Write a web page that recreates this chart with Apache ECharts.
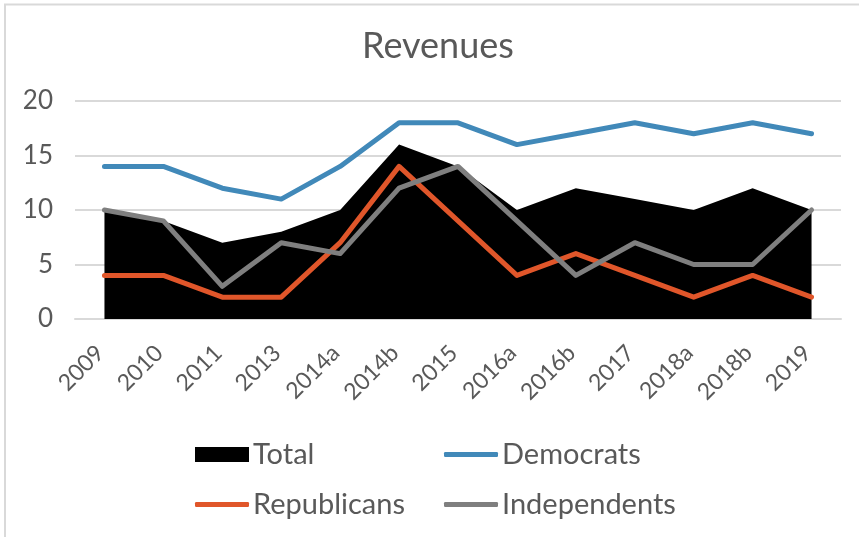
<!DOCTYPE html>
<html>
<head>
<meta charset="utf-8">
<script src="https://cdn.jsdelivr.net/npm/echarts@6/dist/echarts.min.js"></script>
<style>
  html, body { margin: 0; padding: 0; background: #fff; }
  #chart { width: 859px; height: 537px; }
</style>
</head>
<body>
<div id="chart"></div>
<script>
// Survey years (some years were polled twice)
const categories = ['2009', '2010', '2011', '2013', '2014a', '2014b', '2015', '2016a', '2016b', '2017', '2018a', '2018b', '2019'];
const total        = [10, 9, 7, 8, 10, 16, 14, 10, 12, 11, 10, 12, 10];
const democrats    = [14, 14, 12, 11, 14, 18, 18, 16, 17, 18, 17, 18, 17];
const republicans  = [4, 4, 2, 2, 7, 14, 9, 4, 6, 4, 2, 4, 2];
const independents = [10, 9, 3, 7, 6, 12, 14, 9, 4, 7, 5, 5, 10];
const yTicks = [0, 5, 10, 15, 20];

const FONT = 'Lato, "Noto Sans", sans-serif';
const TEXT = '#595959';
const colors = { total: '#000000', dem: '#4189b9', rep: '#e0562a', ind: '#7f7f7f' };

const chart = echarts.init(document.getElementById('chart'), null, { renderer: 'canvas' });

function legendAt(name, left, top, icon) {
  return {
    data: [{ name: name, icon: icon }],
    left: left, top: top,
    itemWidth: 54, itemHeight: icon === 'rect' ? 15 : 5, itemGap: 0,
    textStyle: { fontFamily: FONT, fontSize: 29, color: TEXT, padding: [0, 0, 0, -1] },
    selectedMode: false
  };
}

chart.setOption({
  animation: false,
  title: {
    text: 'Revenues',
    left: 357, top: 23,
    textStyle: { fontFamily: FONT, fontSize: 36, fontWeight: 'normal', color: TEXT }
  },
  graphic: [{
    type: 'rect',
    shape: { x: 5, y: 4.5, width: 900, height: 600 },
    style: { fill: 'none', stroke: '#d9d9d9', lineWidth: 2 },
    silent: true
  }],
  legend: [
    legendAt('Total', 190, 435, 'rect'),
    legendAt('Democrats', 439, 435, 'roundRect'),
    legendAt('Republicans', 190, 485, 'roundRect'),
    legendAt('Independents', 439, 485, 'roundRect')
  ],
  grid: { left: 75, right: 18, top: 101, bottom: 218, containLabel: false },
  xAxis: {
    type: 'category',
    data: categories,
    boundaryGap: true,
    axisLine: { show: true, lineStyle: { color: '#d9d9d9', width: 2 } },
    axisTick: { show: false },
    axisLabel: {
      rotate: 45, margin: 26, interval: 0, padding: [0, 6, 0, 0],
      fontFamily: FONT, fontSize: 23, color: TEXT
    }
  },
  yAxis: {
    type: 'value',
    min: yTicks[0], max: yTicks[yTicks.length - 1], interval: 5,
    axisLine: { show: false },
    axisTick: { show: false },
    splitLine: { lineStyle: { color: '#d9d9d9', width: 2 } },
    axisLabel: { margin: 22, fontFamily: FONT, fontSize: 26, color: TEXT }
  },
  series: [
    {
      name: 'Total', type: 'line', data: total,
      showSymbol: false, symbol: 'none',
      lineStyle: { width: 0, color: colors.total },
      itemStyle: { color: colors.total },
      areaStyle: { color: colors.total, opacity: 1 }
    },
    {
      name: 'Democrats', type: 'line', data: democrats, symbol: 'none',
      lineStyle: { width: 5, color: colors.dem, cap: 'round', join: 'round' },
      itemStyle: { color: colors.dem }
    },
    {
      name: 'Republicans', type: 'line', data: republicans, symbol: 'none',
      lineStyle: { width: 5, color: colors.rep, cap: 'round', join: 'round' },
      itemStyle: { color: colors.rep }
    },
    {
      name: 'Independents', type: 'line', data: independents, symbol: 'none',
      lineStyle: { width: 5, color: colors.ind, cap: 'round', join: 'round' },
      itemStyle: { color: colors.ind }
    }
  ]
});
</script>
</body>
</html>
